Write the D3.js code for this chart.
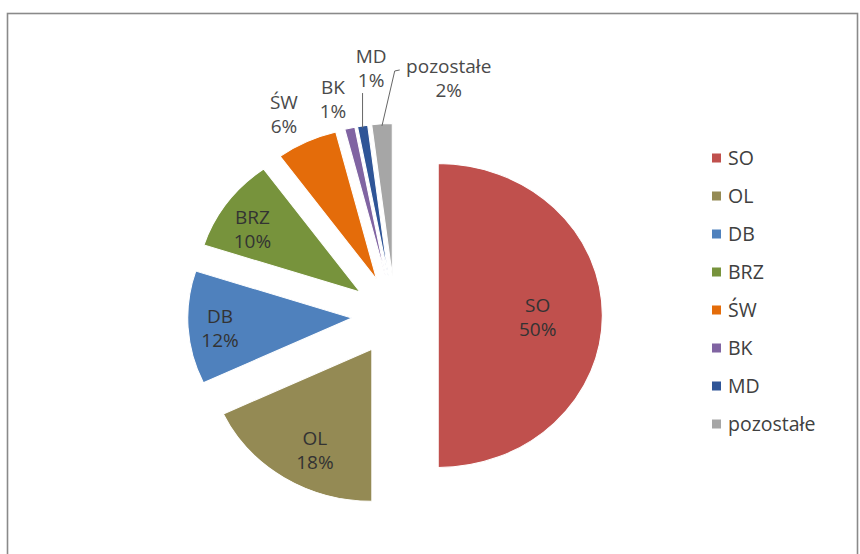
<!DOCTYPE html>
<html>
<head>
<meta charset="utf-8">
<script src="https://cdn.jsdelivr.net/npm/d3@7"></script>
<style>
  html, body { margin: 0; padding: 0; background: #fff; }
  svg { display: block; }
  text { font-family: "Open Sans", Lato, sans-serif; }
</style>
</head>
<body>
<svg id="chart" width="860" height="554"></svg>
<script>
// ---- data ----
const categories = ["SO", "OL", "DB", "BRZ", "ŚW", "BK", "MD", "pozostałe"];
const values = [50, 18, 12, 10, 6, 1, 1, 2];
const labelTexts = ["50%", "18%", "12%", "10%", "6%", "1%", "1%", "2%"];
const colors = ["#C0504D", "#948A54", "#4F81BD", "#77933C", "#E46C0A", "#8064A2", "#2F5597", "#A6A6A6"];

// ---- layout ----
const cx = 395, cy = 315.5, R = 152, sx = 1.08, explode = 40;
const svg = d3.select("#chart");

svg.append("rect")
  .attr("x", 7.5).attr("y", 13.5)
  .attr("width", 850).attr("height", 560)
  .attr("fill", "#fff").attr("stroke", "#8a8a8a").attr("stroke-width", 1.6);

const pie = d3.pie().sort(null).value(d => d.v);
const arcs = pie(categories.map((c, i) => ({ name: c, v: values[i], label: labelTexts[i], color: colors[i] })));
const arc = d3.arc().innerRadius(0).outerRadius(R);

const mid = d => (d.startAngle + d.endAngle) / 2;
function pt(d, r) {
  const a = mid(d);
  const ox = explode * Math.sin(a), oy = -explode * Math.cos(a);
  return [cx + sx * (ox + r * Math.sin(a)), cy + oy - r * Math.cos(a)];
}

const g = svg.append("g").attr("transform", `translate(${cx},${cy}) scale(${sx},1)`);
g.selectAll("path").data(arcs).join("path")
  .attr("transform", d => `translate(${explode * Math.sin(mid(d))},${-explode * Math.cos(mid(d))})`)
  .attr("d", arc)
  .attr("fill", d => d.data.color)
  .attr("stroke", "#fff").attr("stroke-width", 1);

// ---- data labels ----
const labelPlace = {
  "SO": { r: 94, dx: -2, dy: 2 },
  "OL": { r: 114, dx: 9, dy: 5 },
  "DB": { r: 120, dx: -2.5, dy: 2.5 },
  "BRZ": { r: 114, dx: -8, dy: 4.5 },
  "ŚW": { r: 182, dx: -9, dy: 0 },
  "BK": { r: 183, dx: -9.5, dy: 1.5 },
  "MD": { r: 208, dx: 18, dy: -2.5 },
  "pozostałe": { r: 200, dx: 70, dy: 2 }
};
const fs = 19, lh = 24;
const lab = svg.append("g");
arcs.forEach(d => {
  const p = labelPlace[d.data.name];
  const [x0, y0] = pt(d, p.r);
  const x = x0 + p.dx, y = y0 + p.dy;
  const inside = p.r < R;
  const t = lab.append("text")
    .attr("text-anchor", "middle")
    .attr("font-size", fs)
    .attr("fill", inside ? "#333333" : "#4a4a4a");
  t.append("tspan").attr("x", x).attr("y", y - lh / 2).attr("dy", "0.35em").text(d.data.name);
  t.append("tspan").attr("x", x).attr("y", y + lh / 2).attr("dy", "0.35em").text(d.data.label);
  d.labelPos = [x, y];
});

// leader lines for MD and pozostałe
const md = arcs[6], po = arcs[7];
{
  const s = pt(md, R);
  svg.append("path")
    .attr("d", d3.line()([[s[0], s[1] + 2], [s[0], md.labelPos[1] + 25]]))
    .attr("stroke", "#666").attr("stroke-width", 1).attr("fill", "none");
  const s2 = pt(po, R);
  const lx = po.labelPos[0] - 49, ly = po.labelPos[1] - 8;
  svg.append("path")
    .attr("d", d3.line()([[s2[0], s2[1] + 2], [lx - 5, ly + 1], [lx, ly]]))
    .attr("stroke", "#666").attr("stroke-width", 1).attr("fill", "none");
}

// ---- legend ----
const leg = svg.append("g").attr("transform", "translate(712,158)");
const items = leg.selectAll("g").data(categories).join("g")
  .attr("transform", (d, i) => `translate(0,${i * 38})`);
items.append("rect").attr("x", 0).attr("y", -4.5).attr("width", 9).attr("height", 9)
  .attr("fill", (d, i) => colors[i]);
items.append("text").attr("x", 16).attr("y", 0).attr("dy", "0.35em")
  .attr("font-size", 19.5).attr("fill", "#404040").text(d => d);
</script>
</body>
</html>
